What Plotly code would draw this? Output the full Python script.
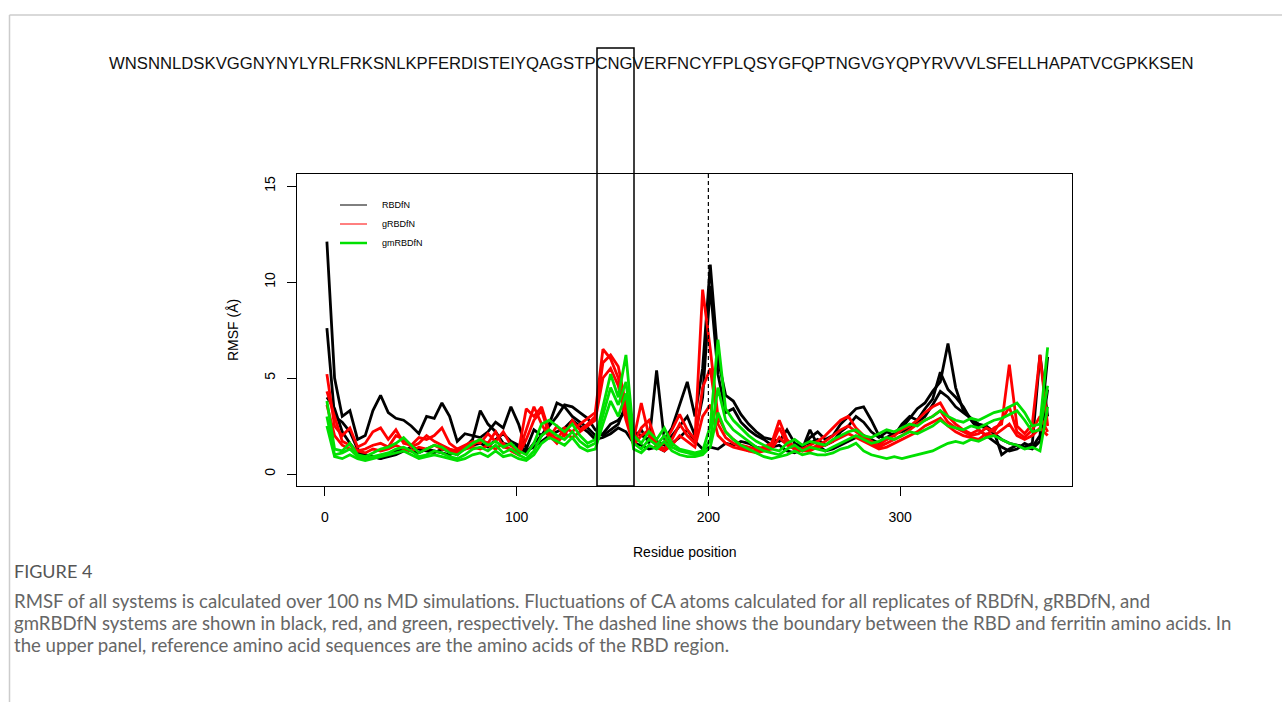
import plotly.graph_objects as go

W, H = 1282, 702

sequence = "WNSNNLDSKVGGNYNYLYRLFRKSNLKPFERDISTEIYQAGSTPCNGVERFNCYFPLQSYGFQPTNGVGYQPYRVVVLSFELLHAPATVCGPKKSEN"

residue = list(range(1, 378, 4))

rbdfn_1 = [12.1, 5.0, 3.0, 3.3, 1.8, 2.0, 3.3, 4.1, 3.2, 2.9,
           2.8, 2.5, 2.1, 3.0, 2.9, 3.7, 3.0, 1.7, 2.1, 2.0,
           1.9, 2.2, 2.7, 2.4, 3.5, 2.6, 1.3, 2.3, 2.0, 2.5,
           3.0, 3.6, 3.5, 3.2, 2.9, 2.3, 2.0, 2.3, 2.6, 3.6,
           1.9, 2.3, 1.6, 5.4, 1.8, 2.4, 3.6, 4.8, 3.0, 5.5,
           10.9, 6.0, 4.1, 3.8, 3.1, 2.6, 2.2, 1.9, 1.8, 1.7,
           2.3, 1.6, 1.4, 1.9, 2.2, 1.8, 2.0, 2.6, 3.0, 3.4,
           3.5, 2.8, 2.0, 1.8, 2.1, 2.4, 2.9, 3.4, 3.7, 4.3,
           4.8, 6.8, 4.5, 3.3, 2.9, 2.6, 2.5, 2.2, 1.0, 1.3,
           1.5, 1.4, 1.6, 6.2, 3.0]
rbdfn_2 = [7.6, 3.0, 2.7, 2.2, 1.3, 1.0, 0.9, 0.8, 0.9, 1.0,
           1.2, 1.4, 1.3, 1.2, 1.1, 1.3, 1.2, 1.0, 1.4, 1.8,
           3.3, 2.6, 2.2, 1.6, 1.5, 1.4, 1.1, 1.6, 2.0, 2.6,
           3.7, 3.5, 3.0, 2.7, 2.4, 2.0, 2.1, 2.6, 2.8, 3.3,
           2.2, 2.0, 1.8, 1.7, 1.5, 2.0, 2.5, 3.0, 2.0, 4.0,
           9.8, 5.2, 3.2, 3.4, 2.7, 2.3, 2.0, 1.8, 1.5, 1.8,
           1.6, 1.3, 1.5, 1.6, 1.8, 1.5, 1.7, 2.2, 2.5, 3.0,
           2.7, 2.2, 1.9, 2.2, 2.0, 2.6, 3.0, 2.8, 3.4, 3.9,
           5.3, 4.4, 4.0, 3.5, 2.8, 2.3, 2.0, 1.7, 1.4, 1.2,
           1.3, 1.6, 1.4, 2.0, 6.1]
rbdfn_3 = [4.0, 3.4, 2.2, 1.6, 1.1, 1.0, 0.9, 0.8, 1.0, 1.2,
           1.3, 1.2, 1.1, 1.3, 1.2, 1.1, 1.0, 1.2, 1.3, 1.5,
           1.6, 1.4, 1.8, 2.1, 1.7, 1.5, 1.2, 1.4, 1.7, 2.0,
           2.2, 2.4, 2.8, 2.5, 2.2, 1.8, 1.9, 2.1, 2.4, 2.2,
           1.6, 1.5, 1.3, 1.4, 1.2, 1.6, 1.9, 2.3, 1.7, 1.3,
           1.4, 1.3, 1.6, 1.5, 1.7, 1.6, 1.4, 1.3, 1.4, 1.5,
           1.2, 1.1, 1.3, 2.3, 1.5, 1.2, 1.3, 1.5, 1.7, 1.9,
           2.0, 1.8, 1.6, 1.9, 2.1, 2.2, 2.4, 2.7, 3.0, 3.6,
           4.3, 4.0, 3.5, 3.2, 2.9, 2.5, 2.4, 2.1, 1.8, 1.6,
           1.5, 1.4, 1.3, 1.7, 4.4]

grbdfn_1 = [5.2, 2.5, 2.0, 2.4, 1.4, 1.6, 2.2, 2.4, 1.8, 2.3,
            1.6, 1.5, 1.9, 1.8, 2.0, 2.4, 1.6, 1.3, 1.5, 1.7,
            1.6, 2.1, 1.7, 2.2, 1.5, 1.2, 3.4, 3.0, 3.5, 2.2,
            1.8, 2.4, 2.2, 2.6, 2.9, 3.2, 6.5, 6.0, 5.0, 3.0,
            1.8, 3.7, 2.0, 1.5, 1.6, 2.3, 3.1, 2.3, 1.8, 9.6,
            6.5, 3.0, 2.2, 1.8, 1.5, 1.4, 1.3, 1.4, 1.6, 2.8,
            1.8, 1.4, 1.3, 1.5, 1.7, 2.0, 2.4, 2.8, 3.0, 2.4,
            2.0, 1.7, 1.5, 1.8, 2.0, 2.3, 2.5, 2.8, 3.2, 3.5,
            3.7, 3.0, 2.6, 2.3, 2.1, 2.3, 2.0, 2.4, 2.6, 5.7,
            2.5, 2.1, 2.6, 6.2, 2.5]
grbdfn_2 = [4.3, 3.0, 1.7, 1.5, 1.2, 1.3, 1.5, 1.6, 1.4, 2.0,
            1.8, 1.4, 1.6, 2.0, 1.7, 1.5, 1.3, 1.2, 1.4, 1.5,
            1.8, 1.6, 2.2, 1.4, 1.3, 1.1, 2.3, 3.5, 2.6, 1.9,
            2.5, 2.0, 2.8, 2.3, 2.6, 3.0, 5.8, 6.2, 5.6, 3.5,
            1.6, 2.4, 2.8, 1.6, 1.3, 1.8, 2.6, 2.0, 1.6, 4.5,
            5.5, 2.6, 1.9, 1.6, 1.4, 1.2, 1.2, 1.3, 1.5, 2.4,
            1.6, 1.3, 1.2, 1.3, 1.5, 1.7, 2.0, 2.3, 2.5, 2.2,
            1.9, 1.6, 1.4, 1.6, 1.8, 2.0, 2.3, 2.6, 2.8, 3.0,
            3.3, 2.7, 2.4, 2.2, 2.0, 2.1, 2.4, 2.2, 2.8, 3.5,
            2.2, 1.9, 2.3, 3.0, 2.2]
grbdfn_3 = [3.6, 2.0, 1.5, 1.3, 1.2, 1.1, 1.3, 1.2, 1.3, 1.5,
            1.3, 1.2, 1.4, 1.3, 1.5, 1.3, 1.2, 1.1, 1.3, 1.4,
            1.3, 1.5, 1.3, 1.6, 1.2, 1.0, 1.8, 2.8, 3.3, 2.0,
            1.6, 2.1, 1.9, 2.2, 2.5, 2.8, 5.0, 5.5, 4.6, 2.8,
            1.5, 2.0, 2.3, 1.4, 1.2, 1.5, 2.0, 1.7, 1.4, 3.0,
            3.6, 2.0, 1.6, 1.4, 1.3, 1.2, 1.1, 1.2, 1.3, 1.9,
            1.5, 1.3, 1.2, 1.2, 1.4, 1.5, 1.7, 1.9, 2.1, 1.9,
            1.7, 1.5, 1.3, 1.4, 1.6, 1.8, 2.0, 2.2, 2.5, 2.7,
            2.9, 2.5, 2.2, 2.0, 1.9, 1.8, 2.1, 2.0, 2.3, 2.6,
            2.0, 1.8, 2.0, 2.4, 2.0]

gmrbdfn_1 = [3.8, 1.3, 1.2, 1.6, 1.0, 0.9, 1.1, 1.3, 1.4, 1.6,
             1.9, 1.5, 1.1, 1.3, 1.5, 1.4, 1.1, 1.0, 1.3, 1.6,
             1.8, 1.5, 1.7, 1.4, 1.6, 1.2, 1.0, 1.6, 2.6, 2.8,
             2.5, 2.2, 2.6, 2.0, 1.6, 1.8, 3.5, 5.2, 4.0, 6.2,
             2.0, 1.6, 2.2, 1.8, 2.4, 1.6, 1.3, 1.2, 1.1, 1.2,
             2.5, 7.0, 3.4, 2.8, 2.4, 2.0, 1.7, 1.5, 1.3, 1.2,
             1.6, 1.8, 1.5, 1.7, 1.6, 1.5, 1.8, 2.0, 2.2, 2.3,
             2.0, 1.9, 2.1, 2.3, 2.2, 2.4, 2.6, 2.5, 2.8, 3.0,
             3.3, 3.0, 2.8, 2.7, 2.9, 2.8, 3.0, 3.2, 3.3, 3.5,
             3.7, 3.2, 2.5, 2.6, 6.6]
gmrbdfn_2 = [3.0, 1.0, 1.1, 1.3, 0.9, 0.8, 0.9, 1.0, 1.1, 1.3,
             1.4, 1.2, 0.9, 1.0, 1.2, 1.1, 0.9, 0.8, 1.0, 1.3,
             1.4, 1.2, 1.5, 1.1, 1.3, 1.0, 0.8, 1.2, 2.0, 2.3,
             2.0, 1.8, 2.2, 1.7, 1.4, 1.6, 3.0, 4.5, 3.6, 4.8,
             1.6, 1.3, 1.8, 1.5, 2.0, 1.4, 1.2, 1.1, 1.0, 1.1,
             1.8, 4.5, 2.8, 2.3, 2.0, 1.7, 1.4, 1.2, 1.1, 1.0,
             1.3, 1.5, 1.2, 1.4, 1.3, 1.2, 1.4, 1.6, 1.8, 2.0,
             1.8, 1.6, 1.7, 1.9, 1.8, 2.0, 2.2, 2.1, 2.3, 2.5,
             2.8, 2.5, 2.4, 2.3, 2.5, 2.4, 2.6, 2.8, 2.9, 3.1,
             3.3, 2.8, 2.2, 2.3, 4.6]
gmrbdfn_3 = [2.5, 0.9, 0.8, 1.0, 0.8, 0.7, 0.8, 0.9, 1.0, 1.1,
             1.2, 1.0, 0.8, 0.9, 1.0, 0.9, 0.8, 0.7, 0.8, 1.0,
             1.1, 0.9, 1.2, 0.9, 1.0, 0.8, 0.7, 1.0, 1.6, 1.9,
             1.7, 1.5, 1.9, 1.4, 1.2, 1.3, 2.6, 3.8, 3.0, 4.2,
             1.3, 1.1, 1.5, 1.3, 1.7, 1.2, 1.0, 0.9, 0.9, 1.0,
             1.4, 3.2, 2.2, 1.8, 1.5, 1.3, 1.1, 0.9, 0.8, 0.9,
             1.0, 1.2, 1.0, 1.1, 1.0, 1.0, 1.1, 1.3, 1.4, 1.6,
             1.2, 1.0, 0.9, 0.8, 0.9, 0.8, 0.9, 1.0, 1.1, 1.2,
             1.4, 1.6, 1.7, 1.6, 1.8, 1.7, 1.9, 2.0, 1.8, 1.6,
             1.5, 1.3, 1.4, 1.2, 3.5]

series = [
    ("RBDfN", "#000000", [rbdfn_1, rbdfn_2, rbdfn_3]),
    ("gRBDfN", "#ff0000", [grbdfn_1, grbdfn_2, grbdfn_3]),
    ("gmRBDfN", "#00e000", [gmrbdfn_1, gmrbdfn_2, gmrbdfn_3]),
]

x_ticks = [0, 100, 200, 300]
y_ticks = [0, 5, 10, 15]
boundary = 200

caption_title = "FIGURE 4"
caption_lines = [
    "RMSF of all systems is calculated over 100 ns MD simulations. Fluctuations of CA atoms calculated for all replicates of RBDfN, gRBDfN, and",
    "gmRBDfN systems are shown in black, red, and green, respectively. The dashed line shows the boundary between the RBD and ferritin amino acids. In",
    "the upper panel, reference amino acid sequences are the amino acids of the RBD region.",
]

# plot box in page pixels
PL, PR, PT, PB = 297, 1072, 174, 486

def px(xp):
    return xp / W

def py(yp):
    return 1 - yp / H

fig = go.Figure()
for name, color, reps in series:
    for rep in reps:
        fig.add_trace(go.Scatter(x=residue, y=rep, mode="lines", name=name,
                                 line=dict(color=color, width=2.8),
                                 showlegend=False, hoverinfo="skip"))

FONT = "Liberation Sans, Arial, Helvetica, sans-serif"

fig.update_layout(
    width=W, height=H,
    margin=dict(l=0, r=0, t=0, b=0),
    paper_bgcolor="white", plot_bgcolor="white",
    showlegend=False,
    font=dict(family=FONT, color="#000000"),
    xaxis=dict(domain=[px(PL), px(PR)], range=[-14.6, 389.7],
               tickvals=x_ticks, ticks="outside", ticklen=9, tickwidth=1,
               tickcolor="#000", showline=True, mirror=True, linecolor="#000",
               linewidth=1, showgrid=False, zeroline=False,
               tickfont=dict(size=14, family=FONT), ticklabelstandoff=9),
    yaxis=dict(domain=[py(PB), py(PT)], range=[-0.625, 15.625],
               tickvals=y_ticks, ticks="outside", ticklen=9, tickwidth=1,
               tickcolor="#000", showline=True, mirror=True, linecolor="#000",
               linewidth=1, showgrid=False, zeroline=False, tickangle=-90,
               tickfont=dict(size=14, family=FONT), ticklabelstandoff=6),
)

# dashed boundary line
fig.add_shape(type="line", xref="x", yref="y domain", x0=boundary, x1=boundary,
              y0=0, y1=1, line=dict(color="#000", width=1.2, dash="4px,3px"))

# box around CNG
fig.add_shape(type="rect", xref="paper", yref="paper",
              x0=px(597), x1=px(634), y0=py(PB), y1=py(48),
              line=dict(color="#000", width=1.5))

# page frame
fig.add_shape(type="line", xref="paper", yref="paper", x0=px(9.5), x1=1,
              y0=py(15), y1=py(15), line=dict(color="#cccccc", width=1.5))
fig.add_shape(type="line", xref="paper", yref="paper", x0=px(9.5), x1=px(9.5),
              y0=py(15), y1=0, line=dict(color="#cccccc", width=1.5))

# legend
leg_y = [205, 224, 243]
leg_w = [1, 1, 2.5]
for (name, color, _), yy, lw in zip(series, leg_y, leg_w):
    fig.add_shape(type="line", xref="paper", yref="paper", x0=px(340), x1=px(367),
                  y0=py(yy), y1=py(yy), line=dict(color=color, width=lw))
    fig.add_annotation(x=px(380), y=py(yy), xref="paper", yref="paper",
                       text=name, showarrow=False, xanchor="left", yanchor="middle",
                       font=dict(size=9, family=FONT, color="#000"))

# sequence
fig.add_annotation(x=px(651), y=py(63), xref="paper", yref="paper", text=sequence,
                   showarrow=False, xanchor="center", yanchor="middle",
                   font=dict(size=16.7, family=FONT, color="#111"))

# axis titles
fig.add_annotation(x=px((PL + PR) / 2), y=py(552), xref="paper", yref="paper",
                   text="Residue position", showarrow=False, yanchor="middle",
                   font=dict(size=14, family=FONT, color="#000"))
fig.add_annotation(x=px(233), y=py((PT + PB) / 2), xref="paper", yref="paper",
                   text="RMSF (Å)", showarrow=False, textangle=-90,
                   xanchor="center", yanchor="middle",
                   font=dict(size=14, family=FONT, color="#000"))

# caption
CAP_FONT = "Lato, Noto Sans, sans-serif"
fig.add_annotation(x=px(12), y=py(571), xref="paper", yref="paper",
                   text=caption_title, showarrow=False, xanchor="left", yanchor="middle",
                   font=dict(size=18, family=CAP_FONT, color="#555555"))
for line, yy in zip(caption_lines, [601, 623, 645]):
    fig.add_annotation(x=px(12), y=py(yy), xref="paper", yref="paper",
                       text=line, showarrow=False, xanchor="left", yanchor="middle",
                       font=dict(size=18.6, family=CAP_FONT, color="#666666"))

fig.write_html("out.html")
